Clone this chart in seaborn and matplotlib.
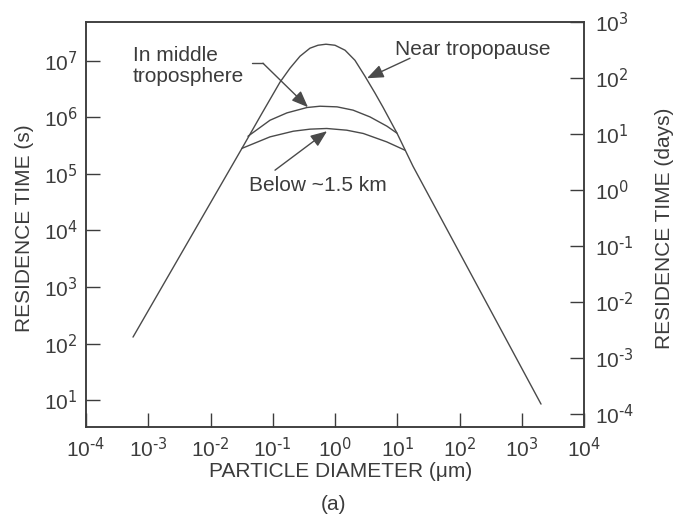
import numpy as np
import pandas as pd
import matplotlib
matplotlib.use("Agg")
import matplotlib.pyplot as plt
import seaborn as sns
from matplotlib.ticker import FuncFormatter, NullLocator

# ---- data (diameter in um, residence time in s) ----
trop_d = [5.69e-4, 0.0321, 0.0671, 0.1306, 0.189, 0.274, 0.396, 0.533, 0.716,
          1.0, 1.45, 2.09, 3.03, 4.40, 5.90, 9.91, 17.9, 2040]
trop_t = [131, 2.83e5, 1.17e6, 4.14e6, 7.31e6, 1.19e7, 1.65e7, 1.86e7, 1.94e7,
          1.86e7, 1.52e7, 1.01e7, 5.28e6, 2.65e6, 1.50e6, 5.21e5, 1.36e5, 8.6]

mid_d = [0.040, 0.0904, 0.169, 0.355, 0.574, 1.08, 1.95, 3.65, 6.84, 9.91]
mid_t = [4.6e5, 8.83e5, 1.19e6, 1.48e6, 1.56e6, 1.52e6, 1.33e6, 1.01e6, 6.92e5, 5.21e5]

low_d = [0.0317, 0.0904, 0.214, 0.396, 0.736, 1.54, 2.85, 6.78, 13.3]
low_t = [2.80e5, 4.49e5, 5.65e5, 6.14e5, 6.31e5, 5.89e5, 5.15e5, 3.66e5, 2.61e5]

x_ticks = [1e-4, 1e-3, 1e-2, 1e-1, 1e0, 1e1, 1e2, 1e3, 1e4]
y_ticks_s = [1e1, 1e2, 1e3, 1e4, 1e5, 1e6, 1e7]
y_ticks_days = [1e-4, 1e-3, 1e-2, 1e-1, 1e0, 1e1, 1e2, 1e3]

df = pd.concat([
    pd.DataFrame({"d": trop_d, "t": trop_t, "curve": "Near tropopause"}),
    pd.DataFrame({"d": mid_d, "t": mid_t, "curve": "In middle troposphere"}),
    pd.DataFrame({"d": low_d, "t": low_t, "curve": "Below ~1.5 km"}),
])

sns.set_style("ticks")
plt.rcParams["font.family"] = ["Liberation Sans", "DejaVu Sans"]
plt.rcParams["mathtext.default"] = "regular"
plt.rcParams["axes.unicode_minus"] = False

INK = "#3c3c3c"
LINE = "#4a4a4a"


def pow10(v, pos=None):
    e = int(round(np.log10(v)))
    return r"$10^{\text{%d}}$" % e


fig = plt.figure(figsize=(6.74, 5.16), dpi=100)
ax = fig.add_axes([86/674, 1-427/516, 498/674, 405/516])

sns.lineplot(data=df, x="d", y="t", units="curve", estimator=None, sort=False,
             color=LINE, lw=1.0, ax=ax, legend=False)

ax.set_xscale("log")
ax.set_yscale("log")
ax.set_xlim(1e-4, 1e4)
ax.set_ylim(10**0.53, 10**7.68)

ax.set_xticks(x_ticks)
ax.set_yticks(y_ticks_s)
ax.xaxis.set_minor_locator(NullLocator())
ax.yaxis.set_minor_locator(NullLocator())
ax.xaxis.set_major_formatter(FuncFormatter(pow10))
ax.yaxis.set_major_formatter(FuncFormatter(pow10))

ax.tick_params(axis="both", which="major", direction="in", length=10, width=1.0,
               color=INK, labelsize=15, labelcolor=INK)
ax.tick_params(axis="y", pad=6)
ax.tick_params(axis="x", pad=7)

for s in ax.spines.values():
    s.set_color(INK)
    s.set_linewidth(1.1)

ax.set_xlabel("PARTICLE DIAMETER (\u03bcm)", fontsize=15, color=INK)
ax.set_ylabel("RESIDENCE TIME (s)", fontsize=15, color=INK)
ax.xaxis.set_label_coords(0.512, -0.086)
ax.yaxis.set_label_coords(-0.105, 0.49)

ax2 = ax.twinx()
ax2.set_yscale("log")
ax2.set_ylim(10**-4.24, 10**3.0)
ax2.set_yticks(y_ticks_days)
ax2.yaxis.set_minor_locator(NullLocator())
ax2.yaxis.set_major_formatter(FuncFormatter(pow10))
ax2.tick_params(axis="y", which="major", direction="in", length=10, width=1.0,
                color=INK, labelsize=15, labelcolor=INK, pad=8)
for s in ax2.spines.values():
    s.set_color(INK)
    s.set_linewidth(1.1)
ax2.set_ylabel("RESIDENCE TIME (days)", fontsize=15, color=INK)
ax2.yaxis.set_label_coords(1.142, 0.49)

# annotations
arrow_kw = dict(arrowstyle="-|>,head_length=1.0,head_width=0.4", color=LINE,
                lw=1.0, shrinkA=0, shrinkB=0)
ax.text(10**0.964, 10**7.2, "Near tropopause", fontsize=15, color=INK,
        ha="left", va="center")
ax.annotate("", xy=(10**0.514, 10**6.687), xytext=(10**1.205, 10**7.04),
            arrowprops=arrow_kw)

ax.text(10**-3.245, 10**6.9, "In middle\ntroposphere", fontsize=15, color=INK,
        ha="left", va="center", linespacing=1.1)
ax.plot([10**-1.333, 10**-1.157], [10**6.952, 10**6.952], color=LINE, lw=1.0)
ax.annotate("", xy=(10**-0.434, 10**6.176), xytext=(10**-1.157, 10**6.952),
            arrowprops=arrow_kw)

ax.text(10**-1.381, 10**4.8, "Below ~1.5 km", fontsize=15, color=INK,
        ha="left", va="center")
ax.annotate("", xy=(10**-0.128, 10**5.752), xytext=(10**-0.964, 10**5.064),
            arrowprops=arrow_kw)

fig.text(333/674, 1-504/516, "(a)", fontsize=15, color=INK, ha="center", va="center")

fig.savefig("out.png", dpi=100, facecolor="white")
